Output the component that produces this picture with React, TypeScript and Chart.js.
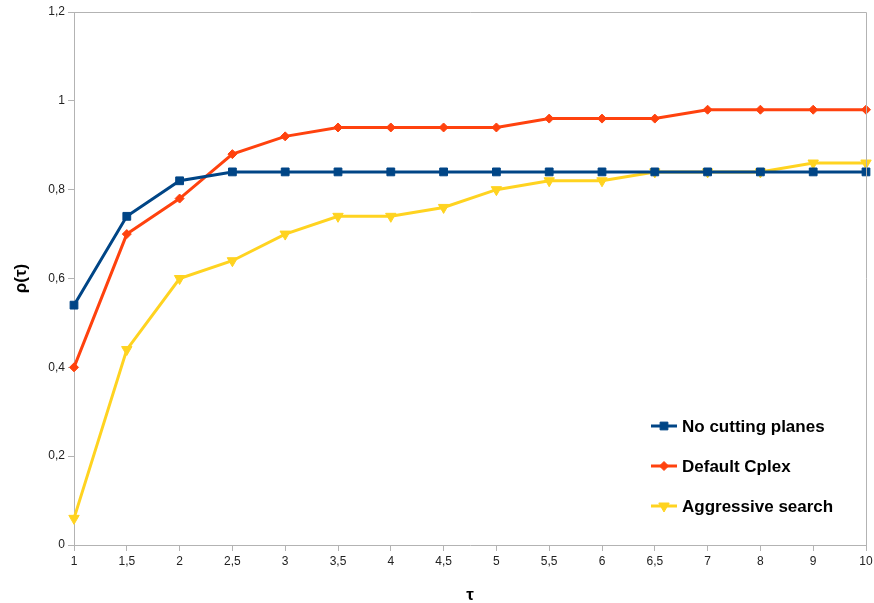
import React, { useEffect, useRef } from "react";
import { Chart, registerables } from "chart.js";
import { drawPoint } from "chart.js/helpers";

Chart.register(...registerables);

const categories = ["1", "1,5", "2", "2,5", "3", "3,5", "4", "4,5", "5", "5,5", "6", "6,5", "7", "8", "9", "10"];
const noCuttingPlanes = [0.54, 0.74, 0.82, 0.84, 0.84, 0.84, 0.84, 0.84, 0.84, 0.84, 0.84, 0.84, 0.84, 0.84, 0.84, 0.84];
const defaultCplex = [0.4, 0.7, 0.78, 0.88, 0.92, 0.94, 0.94, 0.94, 0.94, 0.96, 0.96, 0.96, 0.98, 0.98, 0.98, 0.98];
const aggressiveSearch = [0.06, 0.44, 0.6, 0.64, 0.7, 0.74, 0.74, 0.76, 0.8, 0.82, 0.82, 0.84, 0.84, 0.84, 0.86, 0.86];
const seriesNames = ["No cutting planes", "Default Cplex", "Aggressive search"];

const AXIS = "#b3b3b3";
const FONT = "'Liberation Sans', Arial, sans-serif";

const framePlugin = {
  id: "frameAndLegend",
  afterDraw(chart: any) {
    const { ctx, chartArea } = chart;
    const { left, right, top, bottom } = chartArea;
    ctx.save();
    ctx.strokeStyle = AXIS;
    ctx.lineWidth = 1;
    ctx.beginPath();
    ctx.moveTo(left, top + 0.5);
    ctx.lineTo(right + 0.5, top + 0.5);
    ctx.lineTo(right + 0.5, bottom);
    ctx.stroke();

    // legend inside plot area
    const rowOffsets = [119, 79, 39];
    chart.data.datasets.forEach((ds: any, i: number) => {
      const y = bottom - rowOffsets[i];
      const x0 = right - 215;
      const x1 = right - 189;
      ctx.strokeStyle = ds.borderColor;
      ctx.lineWidth = 3;
      ctx.beginPath();
      ctx.moveTo(x0, y);
      ctx.lineTo(x1, y);
      ctx.stroke();
      ctx.fillStyle = ds.pointBackgroundColor;
      ctx.strokeStyle = ds.pointBorderColor;
      ctx.lineWidth = 1;
      drawPoint(ctx, { pointStyle: ds.pointStyle, rotation: ds.pointRotation || 0, radius: ds.pointRadius, borderWidth: 1 }, (x0 + x1) / 2, y);
      ctx.fillStyle = "#000";
      ctx.font = `bold 17px ${FONT}`;
      ctx.textAlign = "left";
      ctx.textBaseline = "middle";
      ctx.fillText(ds.label, x1 + 5, y + 1);
    });
    ctx.restore();
  },
};

export default function App() {
  const ref = useRef<HTMLCanvasElement>(null);
  useEffect(() => {
    if (!ref.current) return;
    const mk = (label: string, data: number[], color: string, style: string, radius: number, rot = 0) => ({
      label,
      data,
      borderColor: color,
      backgroundColor: color,
      pointBackgroundColor: color,
      pointBorderColor: color,
      borderWidth: 3,
      pointStyle: style,
      pointRadius: radius,
      pointRotation: rot,
      pointBorderWidth: 1,
      tension: 0,
    });
    const chart = new Chart(ref.current, {
      type: "line",
      data: {
        labels: categories,
        datasets: [
          mk(seriesNames[0], noCuttingPlanes, "#004586", "rect", 5.5),
          mk(seriesNames[1], defaultCplex, "#ff420e", "rectRot", 4.5),
          mk(seriesNames[2], aggressiveSearch, "#ffd320", "triangle", 6, 180),
        ],
      },
      options: {
        animation: false,
        responsive: true,
        maintainAspectRatio: false,
        layout: { padding: { top: 12, right: 8, left: 0, bottom: 0 }, autoPadding: false } as any,
        plugins: { legend: { display: false }, tooltip: { enabled: false } },
        scales: {
          x: {
            type: "category",
            offset: false,
            grid: { display: true, drawOnChartArea: false, drawTicks: true, tickLength: 6, color: AXIS },
            border: { display: true, color: AXIS, width: 1 },
            ticks: { color: "#222", font: { family: FONT, size: 12 }, padding: 3, maxRotation: 0, autoSkip: false },
            title: { display: true, text: "τ", color: "#000", font: { family: FONT, size: 17, weight: "bold" }, padding: { top: 0, bottom: -3 } },
            afterFit: (s: any) => { s.height = 58; s.paddingLeft = 0; s.paddingRight = 0; },
          },
          y: {
            min: 0,
            max: 1.2,
            grid: { display: true, drawOnChartArea: false, drawTicks: true, tickLength: 6, color: AXIS },
            border: { display: true, color: AXIS, width: 1 },
            ticks: {
              stepSize: 0.2,
              color: "#222",
              font: { family: FONT, size: 12 },
              padding: 3,
              callback: (v: any) => String(Number(Number(v).toFixed(1))).replace(".", ","),
            },
            title: { display: true, text: "ρ(τ)", color: "#000", font: { family: FONT, size: 17, weight: "bold" }, padding: { top: 11, bottom: 0 } },
            afterFit: (s: any) => { s.width = 74; s.paddingTop = 0; s.paddingBottom = 0; },
          },
        },
      },
      plugins: [framePlugin],
    } as any);
    return () => chart.destroy();
  }, []);
  return (
    <div style={{ position: "fixed", left: 0, top: 0, width: 874, height: 603, background: "#fff" }}>
      <canvas ref={ref} />
    </div>
  );
}
